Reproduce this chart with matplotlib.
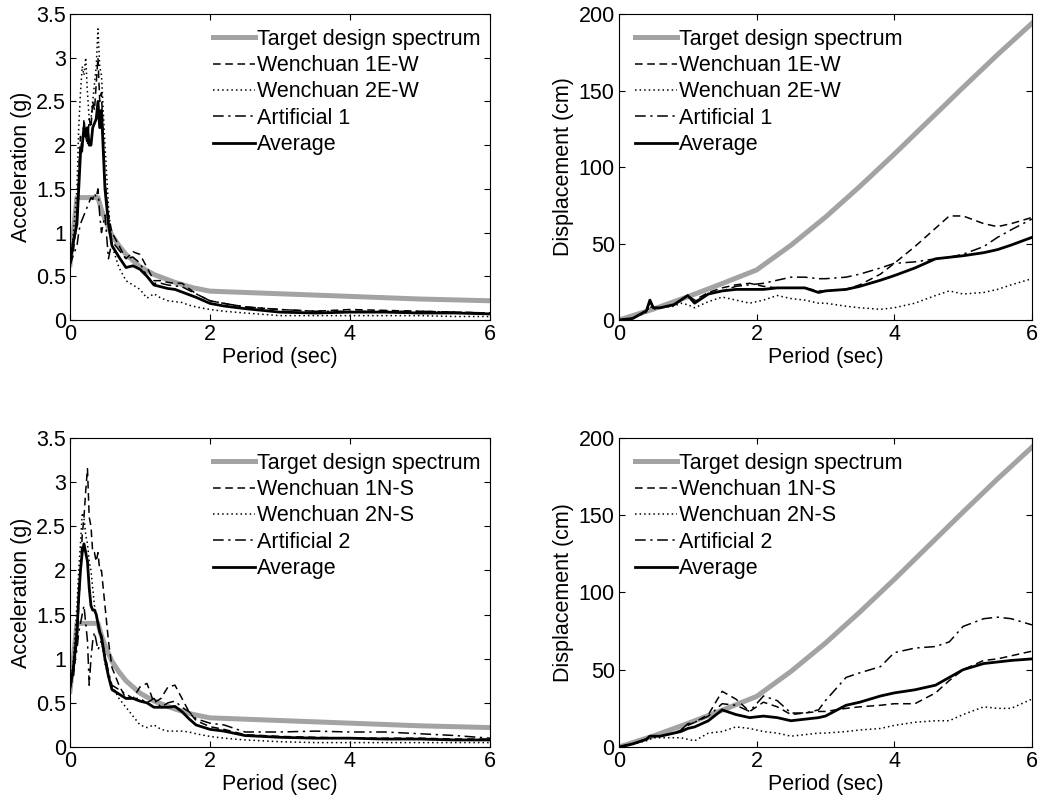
"""
Response spectra of selected ground motions vs target design spectrum
(acceleration and displacement, E-W and N-S components)
"""
import numpy as np
import matplotlib
matplotlib.use("Agg")
import matplotlib.pyplot as plt

plt.rcParams["font.family"] = ["Liberation Sans", "DejaVu Sans"]
plt.rcParams["font.size"] = 15.5

# ── Target design spectrum ───────────────────────────────────────────────────
T_TGT_ACC = [0, 0.1, 0.4, 0.45, 0.5, 0.6, 0.7, 0.8, 0.9, 1.0, 1.2, 1.5, 1.75,
             2.0, 3.0, 4.0, 5.0, 6.0]
SA_TGT = [0.63, 1.40, 1.40, 1.26, 1.15, 0.97, 0.85, 0.75, 0.68, 0.61, 0.52,
          0.43, 0.37, 0.33, 0.30, 0.27, 0.24, 0.22]
T_TGT_DIS = [0, 0.5, 1.0, 1.5, 2.0, 2.5, 3.0, 3.5, 4.0, 4.5, 5.0, 5.5, 6.0]
SD_TGT = [0, 7.1, 15.2, 23.8, 32.7, 48.9, 67.2, 87.3, 108.4, 130.2, 152.0,
          173.4, 193.9]

# ── Acceleration, E-W ────────────────────────────────────────────────────────
T_ACC = [0, 0.05, 0.1, 0.125, 0.15, 0.175, 0.2, 0.225, 0.25, 0.275, 0.3,
         0.325, 0.35, 0.375, 0.4, 0.425, 0.45, 0.5, 0.55, 0.6, 0.7, 0.8,
         0.9, 1.0, 1.1, 1.2, 1.3, 1.4, 1.5, 1.6, 1.7, 1.8, 2.0, 2.2, 2.5,
         3.0, 3.5, 4.0, 4.5, 5.0, 5.5, 6.0]
ACC_W1_EW = [0.65, 0.8, 1.2, 1.7, 2.1, 1.9, 2.3, 2.1, 2.0, 2.3, 2.2, 2.5,
             2.4, 2.7, 3.0, 2.5, 2.6, 1.6, 1.2, 1.0, 0.85, 0.7, 0.78, 0.75,
             0.6, 0.45, 0.45, 0.43, 0.42, 0.42, 0.36, 0.3, 0.22, 0.19, 0.15,
             0.12, 0.1, 0.12, 0.11, 0.1, 0.09, 0.08]
ACC_W2_EW = [0.6, 1.0, 1.5, 2.2, 2.6, 2.9, 2.8, 3.0, 2.6, 2.3, 2.3, 2.5,
             2.7, 2.9, 3.33, 2.9, 2.8, 2.0, 1.3, 0.85, 0.6, 0.45, 0.4, 0.35,
             0.25, 0.3, 0.25, 0.22, 0.21, 0.2, 0.17, 0.15, 0.12, 0.1, 0.08,
             0.05, 0.05, 0.05, 0.05, 0.05, 0.04, 0.04]
ACC_A1 = [0.62, 0.75, 0.85, 1.0, 1.1, 1.15, 1.2, 1.25, 1.3, 1.35, 1.4,
          1.38, 1.45, 1.4, 1.5, 1.2, 1.0, 1.2, 0.7, 0.9, 0.8, 0.7, 0.72,
          0.65, 0.5, 0.42, 0.42, 0.4, 0.39, 0.38, 0.34, 0.3, 0.22, 0.19,
          0.15, 0.12, 0.1, 0.1, 0.1, 0.1, 0.09, 0.08]
ACC_AVG_EW = [0.65, 0.9, 1.1, 1.5, 1.9, 2.0, 2.2, 2.1, 2.2, 2.0, 2.0, 2.2,
              2.25, 2.3, 2.5, 2.2, 2.4, 1.5, 1.1, 0.85, 0.72, 0.6, 0.62,
              0.58, 0.5, 0.4, 0.38, 0.36, 0.35, 0.32, 0.29, 0.26, 0.19,
              0.16, 0.13, 0.09, 0.08, 0.09, 0.09, 0.08, 0.08, 0.07]

# ── Acceleration, N-S ────────────────────────────────────────────────────────
ACC_W1_NS = [0.67, 0.8, 1.2, 1.6, 2.0, 2.4, 2.6, 2.9, 3.15, 2.6, 2.5, 2.2,
             2.2, 2.1, 2.2, 2.0, 2.0, 1.6, 1.2, 0.9, 0.7, 0.55, 0.55, 0.68,
             0.72, 0.5, 0.55, 0.68, 0.7, 0.55, 0.4, 0.3, 0.23, 0.2, 0.14,
             0.12, 0.11, 0.1, 0.1, 0.1, 0.09, 0.09]
ACC_W2_NS = [0.65, 1.0, 1.6, 2.0, 2.3, 2.65, 2.6, 2.4, 2.3, 2.1, 2.0, 1.8,
             1.6, 1.5, 1.4, 1.3, 1.2, 0.95, 0.8, 0.7, 0.55, 0.45, 0.35,
             0.25, 0.22, 0.25, 0.2, 0.18, 0.18, 0.18, 0.17, 0.15, 0.12,
             0.1, 0.08, 0.06, 0.05, 0.05, 0.05, 0.05, 0.05, 0.05]
ACC_A2 = [0.65, 0.9, 1.1, 1.3, 1.4, 1.5, 1.6, 1.4, 1.2, 0.7, 1.0, 1.2,
          1.3, 1.2, 1.1, 1.15, 1.2, 1.05, 0.85, 0.7, 0.65, 0.6, 0.55, 0.55,
          0.5, 0.55, 0.45, 0.5, 0.52, 0.45, 0.4, 0.32, 0.27, 0.25, 0.17,
          0.17, 0.18, 0.17, 0.17, 0.15, 0.13, 0.1]
ACC_AVG_NS = [0.67, 0.9, 1.3, 1.7, 2.0, 2.2, 2.3, 2.2, 2.1, 1.8, 1.6,
              1.55, 1.55, 1.5, 1.4, 1.3, 1.25, 1.0, 0.8, 0.65, 0.6, 0.55,
              0.55, 0.52, 0.5, 0.45, 0.45, 0.45, 0.46, 0.4, 0.32, 0.25,
              0.2, 0.18, 0.13, 0.11, 0.1, 0.1, 0.09, 0.09, 0.08, 0.08]

# ── Displacement, E-W ────────────────────────────────────────────────────────
T_DIS = [0, 0.2, 0.4, 0.45, 0.5, 0.6, 0.8, 0.9, 1.0, 1.1, 1.3, 1.5, 1.7,
         1.9, 2.1, 2.3, 2.5, 2.7, 2.9, 3.0, 3.3, 3.5, 3.8, 4.0, 4.3, 4.6,
         4.8, 5.0, 5.3, 5.5, 5.7, 6.0]
DIS_W1_EW = [0, 1, 6, 12, 8, 8, 10, 13, 16, 13, 18, 21, 23, 24, 22, 21,
             21, 21, 19, 19, 20, 23, 30, 37, 48, 60, 68, 68, 63, 61, 63, 67]
DIS_W2_EW = [0, 1, 5, 9, 7, 8, 9, 11, 10, 8, 12, 15, 13, 11, 13, 16, 14,
             13, 11, 11, 9, 8, 7, 8, 11, 16, 19, 17, 18, 20, 23, 27]
DIS_A1 = [0, 1, 6, 12, 8, 8, 10, 13, 16, 12, 17, 19, 22, 23, 24, 26, 28,
          28, 27, 27, 28, 30, 34, 37, 38, 40, 41, 43, 48, 54, 59, 66]
DIS_AVG_EW = [0, 1, 6, 13, 8, 8, 10, 13, 16, 11, 17, 19, 20, 20, 20, 21,
              21, 21, 18, 19, 20, 22, 26, 29, 34, 40, 41, 42, 44, 46, 49,
              54]

# ── Displacement, N-S ────────────────────────────────────────────────────────
DIS_W1_NS = [0, 2, 5, 7, 7, 7, 9, 11, 14, 16, 21, 36, 31, 23, 29, 26, 21,
             22, 23, 23, 25, 26, 27, 28, 28, 35, 43, 50, 56, 57, 59, 62]
DIS_W2_NS = [0, 2, 4, 5, 6, 6, 6, 6, 5, 4, 9, 10, 13, 12, 10, 9, 7, 8, 9,
             9, 10, 11, 12, 14, 16, 17, 17, 21, 26, 25, 25, 31]
DIS_A2 = [0, 2, 5, 7, 7, 7, 9, 11, 15, 16, 20, 28, 27, 23, 33, 30, 22,
          22, 24, 30, 45, 48, 52, 61, 64, 65, 68, 78, 83, 84, 83, 79]
DIS_AVG_NS = [0, 2, 5, 7, 7, 7, 9, 10, 12, 13, 17, 24, 21, 19, 20, 19,
              17, 18, 19, 20, 27, 29, 33, 35, 37, 40, 45, 50, 54, 55, 56,
              57]

LABELS_EW = ["Target design spectrum", "Wenchuan 1E-W", "Wenchuan 2E-W",
             "Artificial 1", "Average"]
LABELS_NS = ["Target design spectrum", "Wenchuan 1N-S", "Wenchuan 2N-S",
             "Artificial 2", "Average"]

STYLES = [dict(color="#a3a3a3", lw=3.6, ls="-"),
          dict(color="black", lw=1.1, ls=(0, (5, 3))),
          dict(color="black", lw=1.1, ls=(0, (1, 2))),
          dict(color="black", lw=1.1, ls=(0, (7, 3, 1.5, 3))),
          dict(color="black", lw=2.0, ls="-")]


def panel(ax, t_tgt, tgt, t_rec, recs, labels, ylim, yticks, yticklabels,
          ylabel, leg_x):
    ax.plot(t_tgt, tgt, label=labels[0], **STYLES[0])
    for vals, lab, st in zip(recs, labels[1:], STYLES[1:]):
        ax.plot(t_rec, vals, label=lab, **st)
    ax.set_xlim(0, 6)
    ax.set_ylim(*ylim)
    ax.set_xticks([0, 2, 4, 6])
    ax.set_yticks(yticks)
    ax.set_yticklabels(yticklabels)
    ax.set_xlabel("Period (sec)", labelpad=1)
    ax.set_ylabel(ylabel, labelpad=3)
    ax.tick_params(direction="in", top=True, right=True, length=4, width=0.8)
    ax.tick_params(axis="x", pad=3)
    ax.tick_params(axis="y", pad=3)
    for s in ax.spines.values():
        s.set_linewidth(0.8)
    ax.legend(loc="upper left", bbox_to_anchor=(leg_x, 0.952), frameon=False,
              borderpad=0, borderaxespad=0, handlelength=1.95,
              handletextpad=0.1, labelspacing=0.25, fontsize=15.5)


fig = plt.figure(figsize=(10.49, 8.01), dpi=100)
ax1 = fig.add_axes([0.0667, 0.6005, 0.4004, 0.382])
ax2 = fig.add_axes([0.590, 0.6005, 0.3937, 0.382])
ax3 = fig.add_axes([0.0667, 0.0674, 0.4004, 0.386])
ax4 = fig.add_axes([0.590, 0.0674, 0.3937, 0.386])

acc_ticks = [0, 0.5, 1, 1.5, 2, 2.5, 3, 3.5]
acc_labels = ["0", "0.5", "1", "1.5", "2", "2.5", "3", "3.5"]
dis_ticks = [0, 50, 100, 150, 200]
dis_labels = ["0", "50", "100", "150", "200"]

panel(ax1, T_TGT_ACC, SA_TGT, T_ACC, [ACC_W1_EW, ACC_W2_EW, ACC_A1, ACC_AVG_EW],
      LABELS_EW, (0, 3.5), acc_ticks, acc_labels, "Acceleration (g)", 0.34)
panel(ax2, T_TGT_DIS, SD_TGT, T_DIS, [DIS_W1_EW, DIS_W2_EW, DIS_A1, DIS_AVG_EW],
      LABELS_EW, (0, 200), dis_ticks, dis_labels, "Displacement (cm)", 0.039)
panel(ax3, T_TGT_ACC, SA_TGT, T_ACC, [ACC_W1_NS, ACC_W2_NS, ACC_A2, ACC_AVG_NS],
      LABELS_NS, (0, 3.5), acc_ticks, acc_labels, "Acceleration (g)", 0.34)
panel(ax4, T_TGT_DIS, SD_TGT, T_DIS, [DIS_W1_NS, DIS_W2_NS, DIS_A2, DIS_AVG_NS],
      LABELS_NS, (0, 200), dis_ticks, dis_labels, "Displacement (cm)", 0.039)

fig.savefig("out.png", dpi=100)
plt.close(fig)
